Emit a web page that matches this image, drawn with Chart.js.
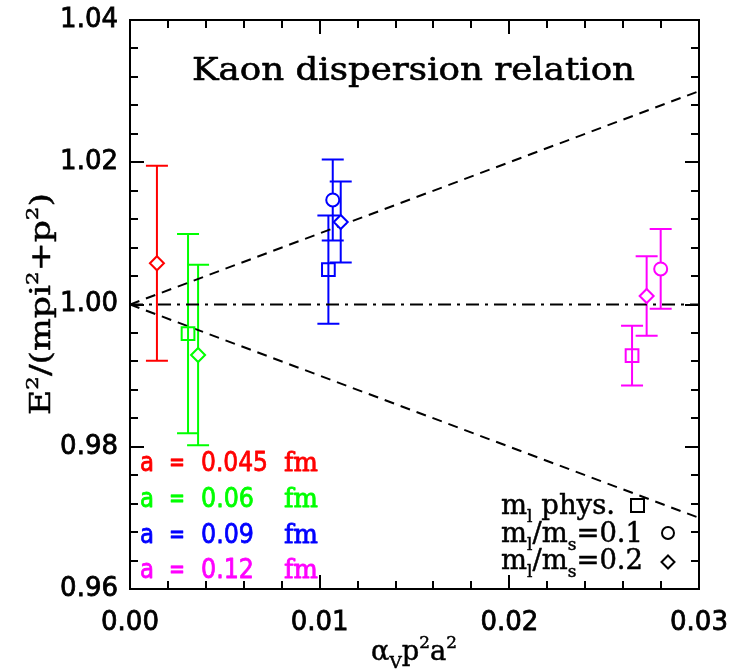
<!DOCTYPE html>
<html><head><meta charset="utf-8">
<script src="https://cdn.jsdelivr.net/npm/chart.js@4.4.0/dist/chart.umd.min.js"></script>
<style>html,body{margin:0;padding:0;background:#fff;} #wrap{width:731px;height:669px;position:relative;}</style>
</head><body><div id="wrap"><canvas id="c" width="731" height="669"></canvas></div>
<script>
// ---- axis ticks ----
const xMajorTicks = [0.00, 0.01, 0.02, 0.03];
const yMajorTicks = [0.96, 0.98, 1.00, 1.02, 1.04];
const xMinorStep = 0.002;
const yMinorStep = 0.004;

// ---- data: x = alpha_V p^2 a^2, y = E^2/(mpi^2+p^2), err = symmetric error ----
const a045X = [0.00142];
const a045Y = [1.0058];
const a045Err = [0.0137];
const a045Mark = ['diamond'];

const a06X = [0.00306, 0.00359];
const a06Y = [0.9959, 0.9929];
const a06Err = [0.0140, 0.0127];
const a06Mark = ['square', 'diamond'];

const a09X = [0.01046, 0.01069, 0.01111];
const a09Y = [1.0049, 1.0147, 1.0116];
const a09Err = [0.0076, 0.0057, 0.0057];
const a09Mark = ['square', 'circle', 'diamond'];

const a12X = [0.02647, 0.02724, 0.02798];
const a12Y = [0.9928, 1.0012, 1.0050];
const a12Err = [0.0042, 0.0056, 0.0056];
const a12Mark = ['square', 'diamond', 'circle'];

// reference lines
const upperLineX = [0.0, 0.03], upperLineY = [1.0, 1.03];
const lowerLineX = [0.0, 0.03], lowerLineY = [1.0, 0.97];
const unitLineX = [0.0, 0.03], unitLineY = [1.0, 1.0];

const spacingLabels = ['0.045', '0.06', '0.09', '0.12'];
const spacingColors = ['#ff0000', '#00ff00', '#0000ff', '#ff00ff'];

// ---- build datasets ----
const styleMap = {square: 'rect', circle: 'circle', diamond: 'rectRot'};
const radiusMap = {square: 9, circle: 6.5, diamond: 7};
function pts(xs, ys) { return xs.map((x, i) => ({x: x, y: ys[i]})); }
function series(xs, ys, errs, marks, color) {
  return {
    type: 'scatter', data: pts(xs, ys), errors: errs,
    borderColor: color, backgroundColor: color,
    pointStyle: marks.map(m => styleMap[m]),
    pointRadius: marks.map(m => radiusMap[m]),
    pointBorderWidth: 2,
    pointBorderColor: color,
    pointBackgroundColor: marks.map(m => m === 'square' ? 'rgba(0,0,0,0)' : '#ffffff'),
    showLine: false, order: 0
  };
}
function refLine(xs, ys, dash) {
  return {type: 'line', data: pts(xs, ys), borderColor: '#000', borderWidth: 2,
    borderDash: dash, pointRadius: 0, fill: false, order: 5};
}

const datasets = [
  refLine(upperLineX, upperLineY, [10, 7]),
  refLine(lowerLineX, lowerLineY, [10, 7]),
  refLine(unitLineX, unitLineY, [13, 6, 3, 6]),
  series(a045X, a045Y, a045Err, a045Mark, spacingColors[0]),
  series(a06X, a06Y, a06Err, a06Mark, spacingColors[1]),
  series(a09X, a09Y, a09Err, a09Mark, spacingColors[2]),
  series(a12X, a12Y, a12Err, a12Mark, spacingColors[3])
];

// ---- helpers ----
function richWidth(ctx, segs, size, family) {
  let w = 0;
  for (const s of segs) {
    const fs = (s.sup || s.sub) ? size * 0.62 : size;
    ctx.font = fs + 'px ' + family;
    w += ctx.measureText(s.t).width;
  }
  return w;
}
function drawRich(ctx, segs, x, y, size, family, color, align, fitWidth, stroke) {
  ctx.save();
  ctx.fillStyle = color;
  ctx.strokeStyle = color;
  ctx.lineJoin = 'round';
  ctx.textBaseline = 'alphabetic';
  ctx.textAlign = 'left';
  const w = richWidth(ctx, segs, size, family);
  let sx = 1;
  if (fitWidth) sx = fitWidth / w;
  const tw = w * sx;
  let start = x;
  if (align === 'center') start = x - tw / 2;
  else if (align === 'right') start = x - tw;
  ctx.translate(start, y);
  ctx.scale(sx, 1);
  ctx.lineWidth = (stroke === undefined ? 0.8 : stroke);
  let cx = 0;
  for (const s of segs) {
    const fs = (s.sup || s.sub) ? size * 0.62 : size;
    ctx.font = fs + 'px ' + family;
    const dy = s.sup ? -size * 0.42 : (s.sub ? size * 0.28 : 0);
    ctx.fillText(s.t, cx, dy);
    if (ctx.lineWidth > 0) ctx.strokeText(s.t, cx, dy);
    cx += ctx.measureText(s.t).width;
  }
  ctx.restore();
}

const errorBars = {
  id: 'errorBars',
  beforeDatasetsDraw(chart) {
    const ctx = chart.ctx, xs = chart.scales.x, ys = chart.scales.y;
    chart.data.datasets.forEach(ds => {
      if (!ds.errors) return;
      ctx.save();
      ctx.strokeStyle = ds.borderColor;
      ctx.lineWidth = 2;
      ds.data.forEach((p, i) => {
        const px = xs.getPixelForValue(p.x);
        const yt = ys.getPixelForValue(p.y + ds.errors[i]);
        const yb = ys.getPixelForValue(p.y - ds.errors[i]);
        const cap = 11;
        ctx.beginPath();
        ctx.moveTo(px, yt); ctx.lineTo(px, yb);
        ctx.moveTo(px - cap, yt); ctx.lineTo(px + cap, yt);
        ctx.moveTo(px - cap, yb); ctx.lineTo(px + cap, yb);
        ctx.stroke();
      });
      ctx.restore();
    });
  }
};

const frameAndText = {
  id: 'frameAndText',
  afterDraw(chart) {
    const ctx = chart.ctx, a = chart.chartArea, xs = chart.scales.x, ys = chart.scales.y;
    ctx.save();
    ctx.strokeStyle = '#000';
    ctx.lineWidth = 2;
    ctx.strokeRect(a.left, a.top, a.right - a.left, a.bottom - a.top);
    // inward ticks
    ctx.beginPath();
    const xmin = xs.min, xmax = xs.max, ymin = ys.min, ymax = ys.max;
    for (let v = xmin; v <= xmax + 1e-9; v += xMinorStep) {
      const isMajor = xMajorTicks.some(t => Math.abs(t - v) < 1e-7);
      const L = isMajor ? 14 : 8;
      const px = Math.round(xs.getPixelForValue(v));
      ctx.moveTo(px, a.bottom); ctx.lineTo(px, a.bottom - L);
      ctx.moveTo(px, a.top); ctx.lineTo(px, a.top + L);
    }
    for (let v = ymin; v <= ymax + 1e-9; v += yMinorStep) {
      const isMajor = yMajorTicks.some(t => Math.abs(t - v) < 1e-7);
      const L = isMajor ? 14 : 8;
      const py = Math.round(ys.getPixelForValue(v));
      ctx.moveTo(a.left, py); ctx.lineTo(a.left + L, py);
      ctx.moveTo(a.right, py); ctx.lineTo(a.right - L, py);
    }
    ctx.stroke();
    ctx.restore();

    const serif = '"DejaVu Serif"';
    const sans = '"DejaVu Sans"';
    // title
    drawRich(ctx, [{t: 'Kaon dispersion relation'}], 192, 80, 31, serif, '#000', 'left', 443, 0.6);

    // spacing legend
    const baselines = [471, 507, 543, 578];
    const numWidths = [67, 53, 53, 53];
    spacingLabels.forEach((lab, i) => {
      const c = spacingColors[i], b = baselines[i];
      drawRich(ctx, [{t: 'a'}], 140, b, 26, sans, c, 'left', 14);
      drawRich(ctx, [{t: '='}], 169, b, 26, sans, c, 'left', 16);
      drawRich(ctx, [{t: lab}], 201, b, 26, sans, c, 'left', numWidths[i]);
      drawRich(ctx, [{t: 'fm'}], 284, b, 26, serif, c, 'left', 34);
    });

    // mass legend
    drawRich(ctx, [{t: 'm'}, {t: 'l', sub: true}, {t: ' phys.'}], 501, 514, 28, serif, '#000', 'left', 114, 0.5);
    drawRich(ctx, [{t: 'm'}, {t: 'l', sub: true}, {t: '/m'}, {t: 's', sub: true}, {t: '=0.1'}], 501, 542, 28, serif, '#000', 'left', 142, 0.5);
    drawRich(ctx, [{t: 'm'}, {t: 'l', sub: true}, {t: '/m'}, {t: 's', sub: true}, {t: '=0.2'}], 501, 569, 28, serif, '#000', 'left', 142, 0.5);
    ctx.save();
    ctx.strokeStyle = '#000'; ctx.lineWidth = 2;
    ctx.strokeRect(631, 499, 13, 13);
    ctx.beginPath(); ctx.arc(668, 533, 6, 0, Math.PI * 2); ctx.stroke();
    ctx.beginPath();
    ctx.moveTo(668, 555.5); ctx.lineTo(674.5, 562); ctx.lineTo(668, 568.5); ctx.lineTo(661.5, 562); ctx.closePath();
    ctx.stroke();
    ctx.restore();

    // axis titles
    drawRich(ctx, [{t: 'α'}, {t: 'V', sub: true}, {t: 'p'}, {t: '2', sup: true}, {t: 'a'}, {t: '2', sup: true}], 414, 660, 28, serif, '#000', 'center', 86, 0.5);
    ctx.save();
    ctx.translate(50, 304);
    ctx.rotate(-Math.PI / 2);
    drawRich(ctx, [{t: 'E'}, {t: '2', sup: true}, {t: '/(mpi'}, {t: '2', sup: true}, {t: '+p'}, {t: '2', sup: true}, {t: ')'}], 0, 0, 28, serif, '#000', 'center', 222, 0.5);
    ctx.restore();
  }
};

const tickFont = {family: '"DejaVu Sans"', size: 26};
new Chart(document.getElementById('c'), {
  data: {datasets: datasets},
  options: {
    responsive: false, animation: false, events: [],
    layout: {padding: {left: 0, right: 32, top: 20, bottom: 0}},
    plugins: {legend: {display: false}, tooltip: {enabled: false}, title: {display: false}},
    scales: {
      x: {
        type: 'linear', min: 0, max: 0.03,
        afterFit(s) { s.height = 80; s.paddingLeft = 0; s.paddingRight = 0; },
        afterBuildTicks(s) { s.ticks = xMajorTicks.map(v => ({value: v})); },
        ticks: {padding: 19, color: '#000', font: tickFont, textStrokeColor: '#000', textStrokeWidth: 0.8,
                maxRotation: 0, autoSkip: false, callback: v => Number(v).toFixed(2)},
        grid: {display: true, drawOnChartArea: false, drawTicks: false},
        border: {display: true, color: '#000', width: 2}
      },
      y: {
        type: 'linear', min: 0.96, max: 1.04,
        afterFit(s) { s.width = 130; s.paddingTop = 0; s.paddingBottom = 0; },
        afterBuildTicks(s) { s.ticks = yMajorTicks.map(v => ({value: v})); },
        ticks: {padding: 12, color: '#000', font: tickFont, textStrokeColor: '#000', textStrokeWidth: 0.8,
                autoSkip: false, callback: v => Number(v).toFixed(2)},
        grid: {display: true, drawOnChartArea: false, drawTicks: false},
        border: {display: true, color: '#000', width: 2}
      }
    }
  },
  plugins: [errorBars, frameAndText]
});
</script>
</body></html>
